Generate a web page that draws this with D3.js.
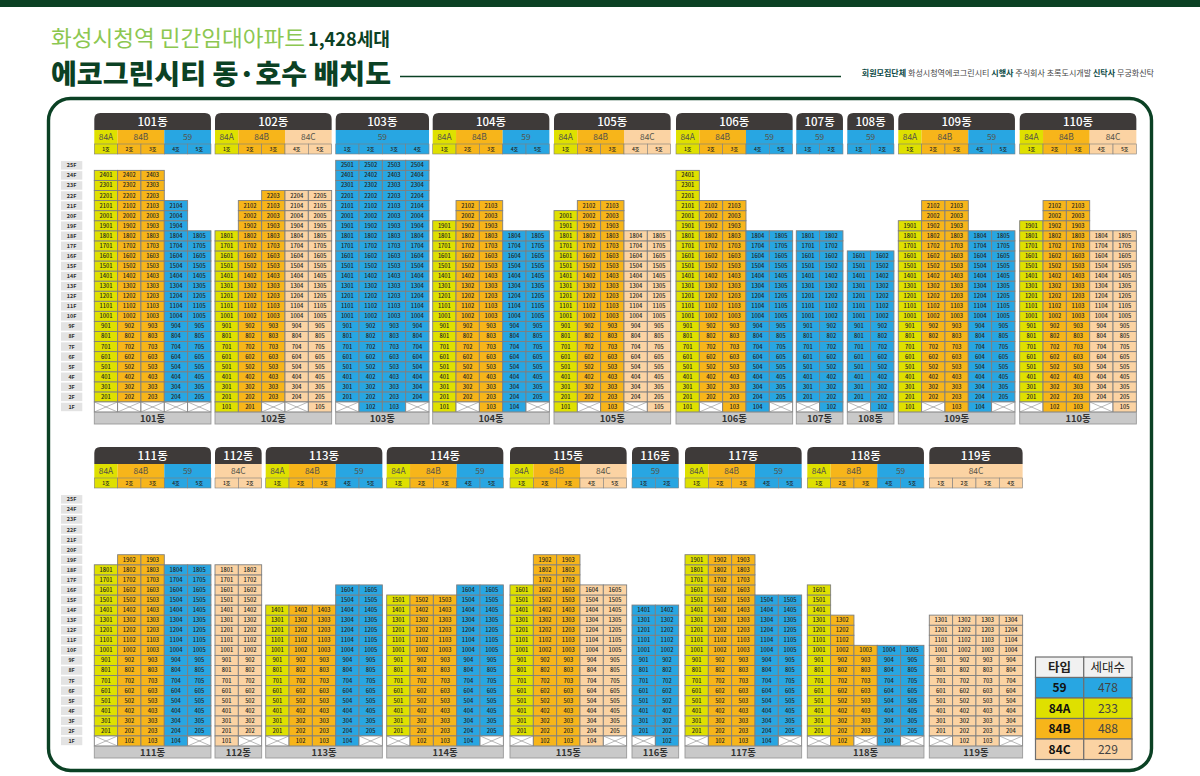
<!DOCTYPE html>
<html>
<head>
<meta charset="utf-8">
<script src="https://cdn.jsdelivr.net/npm/d3@7"></script>
<style>
  html, body { margin: 0; padding: 0; background: #fff; }
  svg { display: block; }
  text { font-family: "Noto Sans CJK KR", "Noto Sans", sans-serif; }
</style>
</head>
<body>
<script>
// ---- data ----
var floors = d3.range(25, 0, -1);

// row 1: 101-110, row 2: 111-119
var buildingsTop = ["101동", "102동", "103동", "104동", "105동", "106동", "107동", "108동", "109동", "110동"];
var buildingsBottom = ["111동", "112동", "113동", "114동", "115동", "116동", "117동", "118동", "119동"];

// unit type of each line (호)
var typesTop = [
  ["84A", "84B", "84B", "59", "59"],
  ["84A", "84B", "84B", "84C", "84C"],
  ["59", "59", "59", "59"],
  ["84A", "84B", "84B", "59", "59"],
  ["84A", "84B", "84B", "84C", "84C"],
  ["84A", "84B", "84B", "59", "59"],
  ["59", "59"],
  ["59", "59"],
  ["84A", "84B", "84B", "59", "59"],
  ["84A", "84B", "84B", "84C", "84C"]
];
var typesBottom = [
  ["84A", "84B", "84B", "59", "59"],
  ["84C", "84C"],
  ["84A", "84B", "84B", "59", "59"],
  ["84A", "84B", "84B", "59", "59"],
  ["84A", "84B", "84B", "84C", "84C"],
  ["59", "59"],
  ["84A", "84B", "84B", "59", "59"],
  ["84A", "84B", "84B", "59", "59"],
  ["84C", "84C", "84C", "84C"]
];

// highest floor of each line
var topFloorsTop = [
  [24, 24, 24, 21, 18],
  [18, 21, 22, 22, 22],
  [25, 25, 25, 25],
  [19, 21, 21, 18, 18],
  [20, 21, 21, 18, 18],
  [24, 21, 21, 18, 18],
  [18, 18],
  [16, 16],
  [19, 21, 21, 18, 18],
  [19, 21, 21, 18, 18]
];
var topFloorsBottom = [
  [18, 19, 19, 18, 18],
  [18, 18],
  [14, 14, 14, 16, 16],
  [15, 15, 15, 16, 16],
  [16, 19, 19, 16, 16],
  [14, 14],
  [19, 19, 19, 15, 15],
  [16, 13, 10, 10, 10],
  [13, 13, 13, 13]
];

// label on the 1st floor, 0 = no unit (crossed box)
var firstFloorTop = [
  [0, 0, 0, 0, 0],
  [101, 201, 0, 0, 105],
  [0, 102, 103, 0],
  [101, 0, 103, 104, 0],
  [101, 0, 103, 0, 105],
  [101, 0, 103, 104, 0],
  [0, 102],
  [0, 102],
  [101, 0, 103, 104, 0],
  [0, 102, 103, 0, 105]
];
var firstFloorBottom = [
  [0, 102, 103, 104, 0],
  [101, 0],
  [0, 102, 103, 104, 0],
  [0, 102, 103, 104, 0],
  [0, 102, 103, 104, 0],
  [0, 102],
  [0, 102, 103, 104, 0],
  [0, 102, 0, 104, 0],
  [0, 102, 103, 0]
];

var legendTypes = ["59", "84A", "84B", "84C"];
var legendCounts = [478, 233, 488, 229];

// ---- layout ----
var width = 1200;
var height = 776;
var lineWidth = 23.33;
// left edge of every building
var leftsTop = [94.3, 215, 335.7, 432.7, 554, 676, 796.3, 847.3, 898.3, 1019.7];
var leftsBottom = [94.3, 215, 265.7, 386.7, 510, 632, 685, 807.3, 929.3];

var green = "#0b4124";
var ink = "#231f20";
var cellStroke = "#7f7f7f";

var typeColor = d3.scaleOrdinal()
  .domain(["59", "84A", "84B", "84C"])
  .range(["#28a6e2", "#dfe000", "#f7b51a", "#fbd3a3"]);

var svg = d3.select("body")
  .append("svg")
  .attr("width", width)
  .attr("height", height);

svg.append("rect")
  .attr("width", width).attr("height", 7)
  .attr("fill", green);

// titles
svg.append("text")
  .attr("x", 51).attr("y", 45.5)
  .attr("font-size", 21.5).attr("fill", "#8cc751")
  .attr("textLength", 254).attr("lengthAdjust", "spacingAndGlyphs")
  .text("화성시청역 민간임대아파트");
svg.append("text")
  .attr("x", 308).attr("y", 45.5)
  .attr("font-size", 18).attr("font-weight", 700).attr("fill", green)
  .attr("textLength", 82).attr("lengthAdjust", "spacingAndGlyphs")
  .text("1,428세대");
svg.append("text")
  .attr("x", 51).attr("y", 83.5)
  .attr("font-size", 27.5).attr("font-weight", 900).attr("fill", green)
  .attr("textLength", 340).attr("lengthAdjust", "spacingAndGlyphs")
  .text("에코그린시티 동·호수 배치도");
svg.append("line")
  .attr("x1", 400).attr("x2", 841).attr("y1", 76.5).attr("y2", 76.5)
  .attr("stroke", green).attr("stroke-width", 1.6);

var credit = svg.append("text")
  .attr("x", 1154).attr("y", 76)
  .attr("text-anchor", "end")
  .attr("font-size", 8.05).attr("fill", "#444");
[["회원모집단체 ", true], ["화성시청역에코그린시티 ", false], ["시행사 ", true],
 ["주식회사 초록도시개발 ", false], ["신탁사 ", true], ["무궁화신탁", false]].forEach(function(p){
  credit.append("tspan")
    .attr("font-weight", p[1] ? 700 : 400)
    .attr("fill", p[1] ? "#0b4a46" : "#444")
    .text(p[0]);
});

// frame
svg.append("rect")
  .attr("x", 48.5).attr("y", 98.5)
  .attr("width", 1103).attr("height", 672)
  .attr("rx", 22).attr("ry", 22)
  .attr("fill", "#fff")
  .attr("stroke", green).attr("stroke-width", 3.4);

// one row of buildings
function drawRow(names, types, tops, firsts, lefts, rowTop) {
  var y = d3.scaleBand()
    .domain(floors)
    .range([rowTop + 47.3, rowTop + 299]);
  var h = y.bandwidth();

  // floor labels on the left
  var fl = svg.append("g");
  fl.selectAll("rect").data(floors).join("rect")
    .attr("x", 61).attr("y", d => y(d) + 0.8)
    .attr("width", 21.3).attr("height", h - 1.6)
    .attr("fill", "#e3e3e3");
  fl.selectAll("text").data(floors).join("text")
    .attr("x", 71.6).attr("y", d => y(d) + h / 2 + 2)
    .attr("text-anchor", "middle")
    .attr("font-size", 5.4).attr("font-weight", 700).attr("fill", "#333")
    .text(d => d + "F");

  names.forEach(function(name, b) {
    var lines = d3.range(types[b].length);
    var x = d3.scaleBand()
      .domain(lines)
      .range([lefts[b], lefts[b] + lines.length * lineWidth]);
    var w = x.bandwidth();
    var left = x.range()[0];
    var right = x.range()[1];
    var g = svg.append("g");

    // dark cap with round top corners
    var cap = d3.path();
    cap.moveTo(left, rowTop + 17);
    cap.lineTo(left, rowTop + 6);
    cap.quadraticCurveTo(left, rowTop, left + 6, rowTop);
    cap.lineTo(right - 6, rowTop);
    cap.quadraticCurveTo(right, rowTop, right, rowTop + 6);
    cap.lineTo(right, rowTop + 17);
    cap.closePath();
    g.append("path").attr("d", cap.toString()).attr("fill", "#3e3a39");
    g.append("text")
      .attr("x", (left + right) / 2).attr("y", rowTop + 12.8)
      .attr("text-anchor", "middle")
      .attr("font-size", 11.5).attr("font-weight", 500).attr("fill", "#fff")
      .text(name);

    // merged type strip, neighbouring lines of one type share a box
    var groups = [];
    types[b].forEach(function(t, i) {
      var last = groups[groups.length - 1];
      if (last && last.type == t) last.end = i;
      else groups.push({ type: t, start: i, end: i });
    });
    g.selectAll("rect.type").data(groups).join("rect")
      .attr("class", "type")
      .attr("x", d => x(d.start))
      .attr("y", rowTop + 17)
      .attr("width", d => (d.end - d.start + 1) * w)
      .attr("height", 14)
      .attr("fill", d => typeColor(d.type));
    g.selectAll("text.type").data(groups).join("text")
      .attr("class", "type")
      .attr("x", d => x(d.start) + (d.end - d.start + 1) * w / 2)
      .attr("y", rowTop + 27.2)
      .attr("text-anchor", "middle")
      .attr("font-size", 8.4).attr("fill", "#55534a")
      .text(d => d.type);

    // line number strip
    g.selectAll("rect.ho").data(lines).join("rect")
      .attr("class", "ho")
      .attr("x", d => x(d)).attr("y", rowTop + 31)
      .attr("width", w).attr("height", 10)
      .attr("fill", d => typeColor(types[b][d]))
      .attr("stroke", cellStroke).attr("stroke-width", 0.6);
    g.selectAll("text.ho").data(lines).join("text")
      .attr("class", "ho")
      .attr("x", d => x(d) + w / 2).attr("y", rowTop + 38)
      .attr("text-anchor", "middle")
      .attr("font-size", 5).attr("font-weight", 500).attr("fill", ink)
      .text(d => (d + 1) + "호");

    // units from 2F up to the top of each line, then the 1F row
    var cells = [];
    lines.forEach(function(i) {
      d3.range(2, tops[b][i] + 1).forEach(function(f) {
        cells.push({ line: i, floor: f, label: f * 100 + i + 1, type: types[b][i] });
      });
      cells.push({ line: i, floor: 1, label: firsts[b][i], type: types[b][i] });
    });

    g.selectAll("rect.cell").data(cells).join("rect")
      .attr("class", "cell")
      .attr("x", d => x(d.line)).attr("y", d => y(d.floor))
      .attr("width", w).attr("height", h)
      .attr("fill", d => d.label ? typeColor(d.type) : "#fff")
      .attr("stroke", cellStroke).attr("stroke-width", 0.9);

    g.selectAll("text.cell").data(cells.filter(d => d.label)).join("text")
      .attr("class", "cell")
      .attr("x", d => x(d.line) + w / 2).attr("y", d => y(d.floor) + h / 2 + 2)
      .attr("text-anchor", "middle")
      .attr("font-size", 5.7).attr("font-weight", 500).attr("fill", ink)
      .text(d => d.label);

    // crossed boxes where 1F has no unit
    g.selectAll("path.none").data(cells.filter(d => !d.label)).join("path")
      .attr("class", "none")
      .attr("d", function(d) {
        var x0 = x(d.line), y0 = y(1);
        return "M" + x0 + "," + y0 + "L" + (x0 + w) + "," + (y0 + h) +
               "M" + (x0 + w) + "," + y0 + "L" + x0 + "," + (y0 + h);
      })
      .attr("fill", "none")
      .attr("stroke", "#8a8a8a").attr("stroke-width", 0.6);

    // grey footer
    g.append("rect")
      .attr("x", left).attr("y", rowTop + 299.3)
      .attr("width", right - left).attr("height", 11.7)
      .attr("fill", "#c9c9c9")
      .attr("stroke", "#9a9a9a").attr("stroke-width", 0.9);
    g.append("text")
      .attr("x", (left + right) / 2).attr("y", rowTop + 308.8)
      .attr("text-anchor", "middle")
      .attr("font-size", 9.4).attr("font-weight", 700).attr("fill", "#333")
      .text(name);
  });
}

drawRow(buildingsTop, typesTop, topFloorsTop, firstFloorTop, leftsTop, 113);
drawRow(buildingsBottom, typesBottom, topFloorsBottom, firstFloorBottom, leftsBottom, 447);

// legend table
var legendX = d3.scaleBand().domain([0, 1]).range([1035.5, 1132]);
var legendY = d3.scaleBand()
  .domain(["head"].concat(legendTypes))
  .range([657, 759.5]);
var legend = svg.append("g");

[["타입", "세대수"]].forEach(function(head) {
  head.forEach(function(t, i) {
    legend.append("rect")
      .attr("x", legendX(i)).attr("y", legendY("head"))
      .attr("width", legendX.bandwidth()).attr("height", legendY.bandwidth())
      .attr("fill", "#f1f1f1")
      .attr("stroke", "#6f6f6f").attr("stroke-width", 1.2);
    legend.append("text")
      .attr("x", legendX(i) + legendX.bandwidth() / 2)
      .attr("y", legendY("head") + legendY.bandwidth() / 2 + 4.5)
      .attr("text-anchor", "middle")
      .attr("font-size", 12.5).attr("font-weight", i == 0 ? 700 : 400).attr("fill", ink)
      .text(t);
  });
});

legendTypes.forEach(function(t, r) {
  [t, legendCounts[r]].forEach(function(v, i) {
    legend.append("rect")
      .attr("x", legendX(i)).attr("y", legendY(t))
      .attr("width", legendX.bandwidth()).attr("height", legendY.bandwidth())
      .attr("fill", typeColor(t))
      .attr("stroke", "#6f6f6f").attr("stroke-width", 1.2);
    legend.append("text")
      .attr("x", legendX(i) + legendX.bandwidth() / 2)
      .attr("y", legendY(t) + legendY.bandwidth() / 2 + 4.5)
      .attr("text-anchor", "middle")
      .attr("font-size", 12).attr("font-weight", i == 0 ? 700 : 400)
      .attr("fill", i == 0 ? "#111" : "#444")
      .text(v);
  });
});
</script>
</body>
</html>
